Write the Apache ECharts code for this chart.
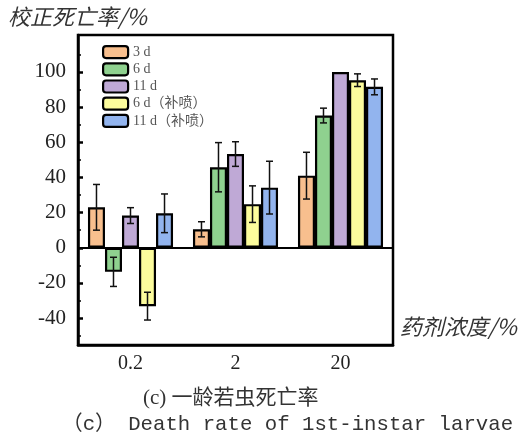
<!DOCTYPE html>
<html><head><meta charset="utf-8">
<script src="https://cdn.jsdelivr.net/npm/echarts@6/dist/echarts.min.js"></script>
<style>html,body{margin:0;padding:0;background:#fff}#c{width:523px;height:439px}</style>
</head><body><div id="c"></div>
<script>
const categories = ['0.2', '2', '20'];
const seriesNames = ['3 d', '6 d', '11 d', '6 d（补喷）', '11 d（补喷）'];
const val3d = [23, 10.5, 41];
const val6d = [-13.7, 45.8, 75.2];
const val11d = [18.3, 53.3, 100];
const val6dB = [-33.2, 24.8, 95.3];
const val11dB = [19.6, 34.2, 91.5];
const err3d = [13, 4.3, 13.3];
const err6d = [8.3, 14, 4.2];
const err11d = [4.5, 7, 0];
const err6dB = [7.9, 10.4, 3.6];
const err11dB = [11, 15, 4.5];
const yTicks = [-40, -20, 0, 20, 40, 60, 80, 100];
const yMinorTicks = [-50, -30, -10, 10, 30, 50, 70, 90, 110];

const values = [val3d, val6d, val11d, val6dB, val11dB];
const errors = [err3d, err6d, err11d, err6dB, err11dB];
const colors = ['#F8BF8E', '#8FD18F', '#BFA9D6', '#FCFC9C', '#92B4EE'];
const GAP = 0.19;

const series = [];
values.forEach((v, i) => {
  const s = {
    name: seriesNames[i], type: 'bar', data: v, barGap: 0, barCategoryGap: (GAP*100)+'%',
    itemStyle: { color: colors[i], borderColor: '#000', borderWidth: 2.2 },
    z: 2
  };
  if (i === 0) {
    s.markLine = { silent: true, symbol: 'none', label: { show: false },
      lineStyle: { color: '#000', width: 2, type: 'solid' }, data: [{ yAxis: 0 }] };
  }
  series.push(s);
});
values.forEach((v, i) => {
  series.push({
    type: 'custom', z: 5,
    data: v.map((y, k) => [k, y, errors[i][k]]),
    encode: { x: 0, y: 1 },
    renderItem: (params, api) => {
      const cat = api.value(0), y = api.value(1), e = api.value(2);
      if (!e) return null;
      const band = api.size([1, 0])[0];
      const bw = band * (1 - GAP) / 5;
      const x = api.coord([cat, y])[0] + (i - 2) * bw;
      const top = api.coord([cat, y + e])[1];
      const bot = api.coord([cat, y - e])[1];
      const cw = 3.5;
      const st = { stroke: '#111', lineWidth: 1.5 };
      return { type: 'group', children: [
        { type: 'line', shape: { x1: x, y1: top, x2: x, y2: bot }, style: st },
        { type: 'line', shape: { x1: x - cw, y1: top, x2: x + cw, y2: top }, style: st },
        { type: 'line', shape: { x1: x - cw, y1: bot, x2: x + cw, y2: bot }, style: st }
      ]};
    }
  });
});

const chart = echarts.init(document.getElementById('c'));
chart.setOption({
  animation: false,
  grid: { left: 78, right: 130, top: 35, bottom: 94, show: true, borderColor: '#000', borderWidth: 2.5 },
  legend: {
    data: seriesNames, orient: 'vertical', left: 97, top: 40, itemWidth: 25, itemHeight: 12, itemGap: 3,
    itemStyle: { borderColor: '#000', borderWidth: 2.2 },
    textStyle: { fontFamily: 'Liberation Serif, Noto Sans CJK SC', fontSize: 14, color: '#555' }
  },
  xAxis: {
    type: 'category', data: categories,
    axisLine: { onZero: false, lineStyle: { color: '#000', width: 2.5 } },
    axisTick: { inside: true, alignWithLabel: true, length: 6, lineStyle: { color: '#000', width: 2.5 } },
    axisLabel: { color: '#222', fontFamily: 'Liberation Serif', fontSize: 20, margin: 9 }
  },
  yAxis: [{
    type: 'value', min: -55.3, max: 121,
    axisLine: { show: true, lineStyle: { color: '#000', width: 2.5 } },
    axisTick: { show: true, inside: true, length: 5, customValues: yTicks, lineStyle: { color: '#000', width: 2.5 } },
    axisLabel: { customValues: yTicks, color: '#222', fontFamily: 'Liberation Serif', fontSize: 21, margin: 12 },
    splitLine: { show: false }
  }, {
    type: 'value', min: -55.3, max: 121, position: 'left',
    axisLine: { show: false },
    axisTick: { show: true, inside: true, length: 3, customValues: yMinorTicks, lineStyle: { color: '#000', width: 1.5 } },
    axisLabel: { show: false }, splitLine: { show: false }
  }],
  graphic: [
    { type: 'text', left: 8, top: 6, style: { text: '校正死亡率/%', fontFamily: 'Noto Sans CJK SC', fontStyle: 'italic', fontSize: 22, fill: '#333' } },
    { type: 'text', left: 400, top: 316, style: { text: '药剂浓度/%', fontFamily: 'Noto Sans CJK SC', fontStyle: 'italic', fontSize: 22, fill: '#333' } },
    { type: 'text', left: 143, top: 388, style: { text: '(c) 一龄若虫死亡率', fontFamily: 'Liberation Serif, Noto Sans CJK SC', fontSize: 21, fill: '#333' } },
    { type: 'text', left: 62, top: 414, style: { text: '（c） Death rate of 1st-instar larvae', fontFamily: 'Liberation Mono, Noto Sans CJK SC', fontSize: 20.7, fill: '#333' } }
  ],
  series: series
});
</script></body></html>
